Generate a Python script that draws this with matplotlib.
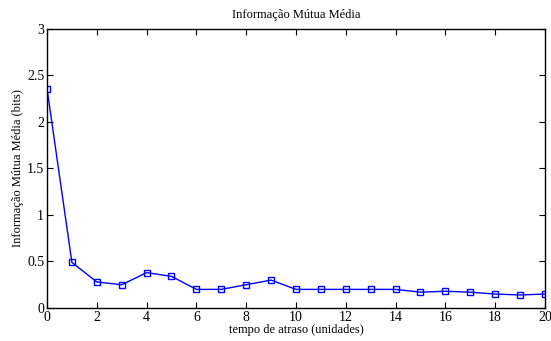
import numpy as np
import matplotlib.pyplot as plt

plt.rcParams['font.family'] = 'Liberation Serif'

# atraso e informacao mutua media
atraso = np.arange(0, 21)
info_mutua = [2.36, 0.49, 0.28, 0.25, 0.38, 0.34, 0.20, 0.20, 0.25, 0.30,
              0.20, 0.20, 0.20, 0.20, 0.20, 0.17, 0.18, 0.17, 0.15, 0.14, 0.15]

fig = plt.figure(figsize=(5.51, 3.41), dpi=100)
ax = fig.add_axes([0.0853, 0.0968, 0.9037, 0.8182])

ax.plot(atraso, info_mutua, color='blue', linewidth=1.0, marker='s',
        markersize=3.8, markerfacecolor='none', markeredgecolor='blue', markeredgewidth=1.0)

ax.set_xlim(0, 20)
ax.set_ylim(0, 3)
ax.set_xticks(np.arange(0, 21, 2))
ax.set_yticks([0, 0.5, 1, 1.5, 2, 2.5, 3])
ax.set_yticklabels(['0', '0.5', '1', '1.5', '2', '2.5', '3'])
ax.tick_params(direction='in', top=True, right=True, labelsize=10, length=4)
ax.tick_params(axis='x', pad=2)
ax.tick_params(axis='y', pad=2)
for s in ax.spines.values():
    s.set_linewidth(1.0)

ax.set_xlabel('tempo de atraso (unidades)', fontsize=9, labelpad=0)
ax.set_ylabel('Informação Mútua Média (bits)', fontsize=9, labelpad=2)
ax.set_title('Informação Mútua Média', fontsize=9, pad=8)

fig.savefig('out.png', dpi=100)
